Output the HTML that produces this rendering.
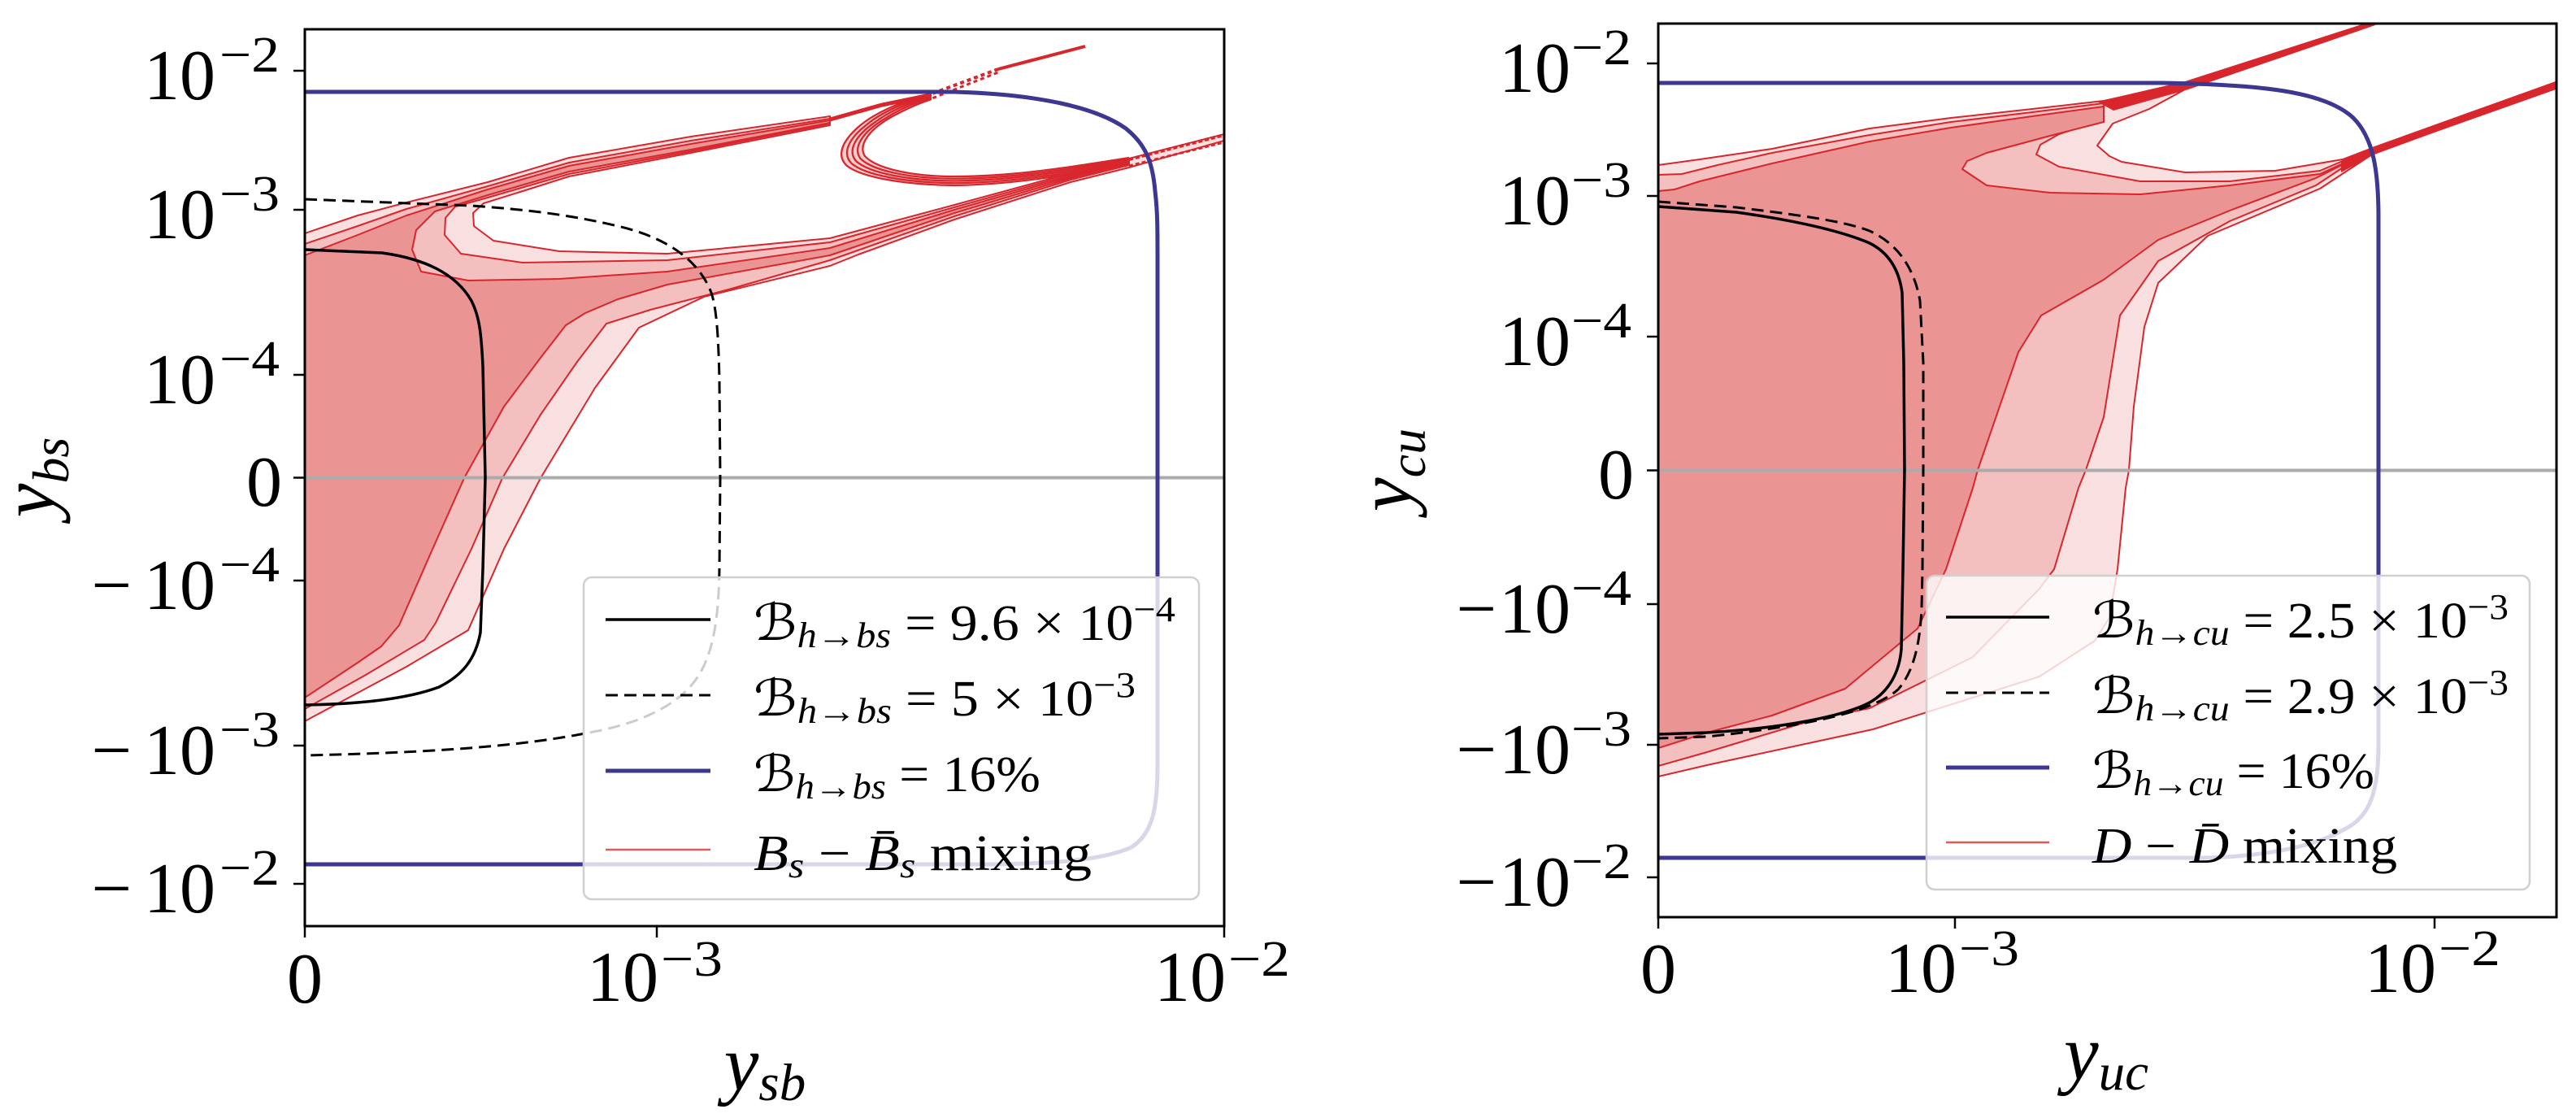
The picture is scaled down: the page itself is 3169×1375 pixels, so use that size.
<!DOCTYPE html>
<html><head><meta charset="utf-8"><style>
html,body{margin:0;padding:0;background:#fff;}
svg{display:block;}
text{font-family:"Liberation Serif","DejaVu Serif",serif;fill:#000;}
</style></head><body>
<svg xmlns="http://www.w3.org/2000/svg" width="3169" height="1375" viewBox="0 0 3169 1375">
<defs>
<clipPath id="cl"><rect x="375" y="36" width="1131" height="1103"/></clipPath>
<clipPath id="cr"><rect x="2040" y="29" width="1105" height="1099"/></clipPath>
</defs>
<rect width="3169" height="1375" fill="#fff"/>

<!-- ================= LEFT PLOT ================= -->
<g clip-path="url(#cl)">
<g stroke="#d8262c" stroke-width="2" stroke-linejoin="round">
<path fill="#f9e0e0" d="M375,287 L440,265 L500,249 L600,224 L700,194 L850,168 L1021,143 L1021,154 L850,188 L700,217 L640,236 L595,250 L582,262 L583,278 L607,296 L688,309 L821,312 L1021,293 L1174,252 L1317,213 L1389,195 L1506,165 L1506,173 L1389,206 L1317,224 L1174,270 L1056,313 L1021,327 L866,365 L786,403 L732,477 L700,530 L665,588 L620,675 L576,775 L500,820 L375,887 Z"/>
<path fill="#f3bfbf" d="M375,300 L440,278 L500,257 L600,229 L700,200 L850,173 L1021,146 L1021,152 L850,186 L700,214 L600,243 L560,254 L548,268 L547,289 L567,312 L643,323 L821,320 L1021,298 L1174,255 L1317,215 L1389,197 L1389,203 L1317,221 L1174,266 L1021,320 L900,355 L800,381 L746,398 L710,445 L665,510 L618,588 L580,675 L536,766 L522,787 L450,830 L375,872 Z"/>
<path fill="#ea9494" d="M375,314 L440,289 L500,265 L600,233 L700,204 L850,177 L1021,148 L1021,151 L850,184 L700,211 L600,240 L535,260 L512,283 L507,307 L518,334 L576,345 L688,343 L821,334 L1021,305 L1174,258 L1317,217 L1389,199 L1389,201 L1317,219 L1174,262 L1021,314 L821,350 L760,368 L720,385 L696,400 L665,440 L620,500 L571,588 L530,680 L491,769 L469,795 L440,815 L375,858 Z"/>
</g>
<!-- loop: pink band with multiple thin red contours -->
<path fill="#f6cdcd" d="M1146,115 C1110,124 1075,139 1055,157 C1035,175 1029,192 1042,204 C1060,218 1110,227 1174,228 C1250,227 1320,214 1389,201 L1389,194 C1320,205 1250,217 1174,217 C1120,217 1078,207 1064,192 C1055,178 1070,158 1100,142 C1115,134 1130,127 1146,122 Z"/>
<g fill="none" stroke="#d8262c" stroke-width="2.3">
<path d="M1146,115 C1110,124 1075,139 1055,157 C1035,175 1029,192 1042,204 C1060,218 1110,227 1174,228 C1250,227 1320,214 1389,201"/>
<path d="M1146,116.75 C1115,124.75 1085,137.75 1066.25,153.25 C1043.75,170.75 1035.5,188.5 1047.5,201 C1064.5,215.25 1112.5,224.5 1174,225.25 C1250,224.5 1320,211.75 1389,199.25"/>
<path d="M1146,118.5 C1120,125.5 1095,136.5 1077.5,149.5 C1052.5,166.5 1042,185 1053,198 C1069,212.5 1115,222 1174,222.5 C1250,222 1320,209.5 1389,197.5"/>
<path d="M1146,120.25 C1125,126.25 1105,135.25 1088.75,145.75 C1061.25,162.25 1048.5,181.5 1058.5,195 C1073.5,209.75 1117.5,219.5 1174,219.75 C1250,219.5 1320,207.25 1389,195.75"/>
<path d="M1146,122 C1130,127 1115,134 1100,142 C1070,158 1055,178 1064,192 C1078,207 1120,217 1174,217 C1250,217 1320,205 1389,194"/>
</g>
<path d="M1021,147 L1085,129 L1139,118" fill="none" stroke="#d8262c" stroke-width="5"/>
<path d="M1139,118 L1228,85" fill="none" stroke="#d8262c" stroke-width="4" stroke-dasharray="5 4"/>
<path d="M1139,124 L1228,89" fill="none" stroke="#d8262c" stroke-width="3" stroke-dasharray="5 4"/>
<path d="M1228,85 L1335,57" fill="none" stroke="#d8262c" stroke-width="4"/>
<path d="M1389,196 L1506,166" fill="none" stroke="#d8262c" stroke-width="4" stroke-dasharray="5 3"/>
<path d="M1389,204 L1506,175" fill="none" stroke="#d8262c" stroke-width="3" stroke-dasharray="5 3"/>
<!-- zero line -->
<line x1="375" y1="587.5" x2="1506" y2="587.5" stroke="#ababab" stroke-width="4"/>
<!-- blue -->
<path d="M375,113 L1174,113 C1280,116 1350,133 1385,158 C1410,178 1418,200 1421,235 C1424,260 1424,280 1424,320 L1424,940 C1424,995 1418,1025 1392,1042 C1352,1060 1280,1063 1200,1063 L375,1063" fill="none" stroke="#3c3791" stroke-width="5"/>
<!-- black solid -->
<path d="M375,307 L470,311 C520,318 560,335 580,370 C590,390 592,410 594,450 L597,587 L594,700 L591,778 C585,810 570,830 540,845 C500,860 440,866 375,867" fill="none" stroke="#000" stroke-width="3.5"/>
<!-- black dashed -->
<path d="M375,245 L580,253 C650,258 700,264 760,278 C820,292 860,320 875,360 C882,380 884,420 885,468 L886,588 L885,700 C884,760 878,800 860,830 C840,862 800,885 740,898 C660,915 560,925 375,929" fill="none" stroke="#000" stroke-width="3" stroke-dasharray="15 8"/>
</g>
<!-- frame -->
<rect x="375" y="36" width="1131" height="1103" fill="none" stroke="#000" stroke-width="3"/>
<!-- ticks -->
<g stroke="#000" stroke-width="2.5">
<line x1="361" y1="87" x2="375" y2="87"/><line x1="361" y1="258" x2="375" y2="258"/>
<line x1="361" y1="461" x2="375" y2="461"/><line x1="361" y1="587.5" x2="375" y2="587.5"/>
<line x1="361" y1="714" x2="375" y2="714"/><line x1="361" y1="917" x2="375" y2="917"/>
<line x1="361" y1="1087" x2="375" y2="1087"/>
<line x1="375" y1="1139" x2="375" y2="1153"/><line x1="808" y1="1139" x2="808" y2="1153"/>
<line x1="1506" y1="1139" x2="1506" y2="1153"/>
</g>
<!-- y tick labels left -->
<g font-size="88">
<text x="265" y="122" text-anchor="end">10</text><text x="344" y="88" text-anchor="end" font-size="62" textLength="74" lengthAdjust="spacingAndGlyphs">−2</text>
<text x="265" y="293" text-anchor="end">10</text><text x="344" y="259" text-anchor="end" font-size="62" textLength="74" lengthAdjust="spacingAndGlyphs">−3</text>
<text x="265" y="496" text-anchor="end">10</text><text x="344" y="462" text-anchor="end" font-size="62" textLength="74" lengthAdjust="spacingAndGlyphs">−4</text>
<text x="347" y="622" text-anchor="end">0</text>
<text x="162" y="749" text-anchor="end">−</text><text x="265" y="749" text-anchor="end">10</text><text x="344" y="715" text-anchor="end" font-size="62" textLength="74" lengthAdjust="spacingAndGlyphs">−4</text>
<text x="162" y="952" text-anchor="end">−</text><text x="265" y="952" text-anchor="end">10</text><text x="344" y="918" text-anchor="end" font-size="62" textLength="74" lengthAdjust="spacingAndGlyphs">−3</text>
<text x="162" y="1122" text-anchor="end">−</text><text x="265" y="1122" text-anchor="end">10</text><text x="344" y="1088" text-anchor="end" font-size="62" textLength="74" lengthAdjust="spacingAndGlyphs">−2</text>
<!-- x tick labels left -->
<text x="375" y="1233" text-anchor="middle">0</text>
<text x="810" y="1231" text-anchor="end">10</text><text x="813" y="1200" font-size="62" textLength="76" lengthAdjust="spacingAndGlyphs">−3</text>
<text x="1508" y="1231" text-anchor="end">10</text><text x="1511" y="1200" font-size="62" textLength="76" lengthAdjust="spacingAndGlyphs">−2</text>
</g>
<!-- axis labels left -->
<text transform="translate(66,587) rotate(-90)" text-anchor="middle" font-size="94" font-style="italic">y<tspan font-size="64" dy="18">bs</tspan></text>
<text x="941" y="1340" text-anchor="middle" font-size="96" font-style="italic">y<tspan font-size="65" dy="13">sb</tspan></text>

<!-- legend left -->
<rect x="718" y="710" width="757" height="396" rx="10" fill="#fff" fill-opacity="0.8" stroke="#d0d0d0" stroke-width="2.5"/>
<line x1="745" y1="762" x2="874" y2="762" stroke="#000" stroke-width="3.5"/>
<line x1="745" y1="855" x2="874" y2="855" stroke="#000" stroke-width="3" stroke-dasharray="15 8"/>
<line x1="745" y1="948" x2="874" y2="948" stroke="#3c3791" stroke-width="5"/>
<line x1="745" y1="1045" x2="874" y2="1045" stroke="#e05a5a" stroke-width="2.5"/>
<g font-size="62">
<text x="927" y="787" textLength="519" lengthAdjust="spacingAndGlyphs">ℬ<tspan font-size="44" font-style="italic" dy="9">h</tspan><tspan font-size="44">→</tspan><tspan font-size="44" font-style="italic">bs</tspan><tspan dy="-9"> = 9.6 × 10</tspan><tspan font-size="44" dy="-23">−4</tspan></text>
<text x="927" y="880" textLength="470" lengthAdjust="spacingAndGlyphs">ℬ<tspan font-size="44" font-style="italic" dy="9">h</tspan><tspan font-size="44">→</tspan><tspan font-size="44" font-style="italic">bs</tspan><tspan dy="-9"> = 5 × 10</tspan><tspan font-size="44" dy="-23">−3</tspan></text>
<text x="927" y="973" textLength="353" lengthAdjust="spacingAndGlyphs">ℬ<tspan font-size="44" font-style="italic" dy="9">h</tspan><tspan font-size="44">→</tspan><tspan font-size="44" font-style="italic">bs</tspan><tspan dy="-9"> = 16%</tspan></text>
<text x="927" y="1070" textLength="416" lengthAdjust="spacingAndGlyphs"><tspan font-style="italic">B</tspan><tspan font-size="44" font-style="italic" dy="9">s</tspan><tspan dy="-9"> − </tspan><tspan font-style="italic">B̄</tspan><tspan font-size="44" font-style="italic" dy="9">s</tspan><tspan dy="-9"> mixing</tspan></text>
</g>

<!-- ================= RIGHT PLOT ================= -->
<g clip-path="url(#cr)">
<g stroke="#d8262c" stroke-width="2" stroke-linejoin="round">
<path fill="#f9e0e0" d="M2040,203 L2091,196 L2180,183 L2300,158 L2400,145 L2500,134 L2588,124 L2640,113 L2688,104 L2688,110 L2644,134 L2599,152 L2580,179 L2595,192 L2610,199 L2688,212 L2799,210 L2882,196 L2921,181 L3147,100 L3147,108 L2921,188 L2854,232 L2716,290 L2655,348 L2638,402 L2625,500 L2619,578 L2615,600 L2605,700 L2595,760 L2577,788 L2509,832 L2304,897 L2100,941 L2040,955 Z"/>
<path fill="#f3bfbf" d="M2040,215 L2069,214 L2113,203 L2180,188 L2300,166 L2400,150 L2500,138 L2588,127 L2588,147 L2533,165 L2510,178 L2505,190 L2533,205 L2633,223 L2743,223 L2854,210 L2917,183 L2849,228 L2743,272 L2655,321 L2608,388 L2588,513 L2566,578 L2557,600 L2527,700 L2509,724 L2427,808 L2300,871 L2236,884 L2100,925 L2040,942 Z"/>
<path fill="#ea9494" d="M2040,235 L2060,233 L2091,223 L2180,201 L2300,174 L2400,157 L2500,143 L2588,131 L2588,150 L2522,167 L2444,188 L2420,198 L2414,208 L2444,228 L2522,237 L2633,239 L2743,228 L2854,214 L2915,186 L2849,219 L2743,259 L2655,295 L2588,344 L2511,388 L2483,433 L2433,578 L2427,600 L2394,700 L2359,773 L2300,822 L2270,847 L2180,880 L2100,901 L2040,920 Z"/>
</g>
<path fill="#d8262c" d="M2580,125 L2688,100 L2918,26 L2922,31 L2692,110 L2600,136 Z"/>
<path fill="#d8262c" d="M2880,199 L2921,182 L3147,99 L3147,107 L2921,190 L2880,212 Z"/>
<line x1="2040" y1="578.5" x2="3145" y2="578.5" stroke="#ababab" stroke-width="4"/>
<path d="M2040,102 L2660,102 C2780,104 2860,112 2895,145 C2920,170 2926,210 2926,268 L2926,916 C2926,975 2915,1005 2884,1020 C2850,1040 2790,1053 2713,1055 L2040,1055" fill="none" stroke="#3c3791" stroke-width="5"/>
<path d="M2040,254 L2136,261 C2200,270 2260,282 2300,299 C2322,310 2336,330 2340,360 L2342,446 L2343,578 L2341,700 L2339,798 C2337,825 2325,850 2300,864 C2270,880 2200,895 2100,901 L2040,903" fill="none" stroke="#000" stroke-width="3.5"/>
<path d="M2040,248 L2136,255 C2210,264 2270,272 2300,284 C2335,300 2355,330 2362,370 L2366,446 L2366,578 L2365,700 L2364,748 C2362,790 2355,825 2335,848 C2310,870 2250,890 2100,906 L2040,908" fill="none" stroke="#000" stroke-width="3" stroke-dasharray="15 8"/>
</g>
<rect x="2040" y="29" width="1105" height="1099" fill="none" stroke="#000" stroke-width="3"/>
<g stroke="#000" stroke-width="2.5">
<line x1="2026" y1="78" x2="2040" y2="78"/><line x1="2026" y1="241" x2="2040" y2="241"/>
<line x1="2026" y1="414" x2="2040" y2="414"/><line x1="2026" y1="578.5" x2="2040" y2="578.5"/>
<line x1="2026" y1="743" x2="2040" y2="743"/><line x1="2026" y1="916" x2="2040" y2="916"/>
<line x1="2026" y1="1079" x2="2040" y2="1079"/>
<line x1="2040" y1="1128" x2="2040" y2="1142"/><line x1="2405" y1="1128" x2="2405" y2="1142"/>
<line x1="2995" y1="1128" x2="2995" y2="1142"/>
</g>
<g font-size="88">
<text x="1932" y="113" text-anchor="end">10</text><text x="2007" y="79" text-anchor="end" font-size="62" textLength="74" lengthAdjust="spacingAndGlyphs">−2</text>
<text x="1932" y="276" text-anchor="end">10</text><text x="2007" y="242" text-anchor="end" font-size="62" textLength="74" lengthAdjust="spacingAndGlyphs">−3</text>
<text x="1932" y="449" text-anchor="end">10</text><text x="2007" y="415" text-anchor="end" font-size="62" textLength="74" lengthAdjust="spacingAndGlyphs">−4</text>
<text x="2010" y="613" text-anchor="end">0</text>
<text x="1841" y="778" text-anchor="end">−</text><text x="1932" y="778" text-anchor="end">10</text><text x="2007" y="744" text-anchor="end" font-size="62" textLength="74" lengthAdjust="spacingAndGlyphs">−4</text>
<text x="1841" y="951" text-anchor="end">−</text><text x="1932" y="951" text-anchor="end">10</text><text x="2007" y="917" text-anchor="end" font-size="62" textLength="74" lengthAdjust="spacingAndGlyphs">−3</text>
<text x="1841" y="1114" text-anchor="end">−</text><text x="1932" y="1114" text-anchor="end">10</text><text x="2007" y="1080" text-anchor="end" font-size="62" textLength="74" lengthAdjust="spacingAndGlyphs">−2</text>
<text x="2040" y="1221" text-anchor="middle">0</text>
<text x="2407" y="1220" text-anchor="end">10</text><text x="2410" y="1187" font-size="62" textLength="74" lengthAdjust="spacingAndGlyphs">−3</text>
<text x="2997" y="1220" text-anchor="end">10</text><text x="3000" y="1187" font-size="62" textLength="76" lengthAdjust="spacingAndGlyphs">−2</text>
</g>
<text transform="translate(1735,578) rotate(-90)" text-anchor="middle" font-size="94" font-style="italic">y<tspan font-size="64" dy="18">cu</tspan></text>
<text x="2591" y="1327" text-anchor="middle" font-size="96" font-style="italic">y<tspan font-size="65" dy="13">uc</tspan></text>

<rect x="2370" y="708" width="742" height="386" rx="10" fill="#fff" fill-opacity="0.8" stroke="#d0d0d0" stroke-width="2.5"/>
<line x1="2394" y1="759" x2="2521" y2="759" stroke="#000" stroke-width="3.5"/>
<line x1="2394" y1="852" x2="2521" y2="852" stroke="#000" stroke-width="3" stroke-dasharray="15 8"/>
<line x1="2394" y1="944" x2="2521" y2="944" stroke="#3c3791" stroke-width="5"/>
<line x1="2394" y1="1036" x2="2521" y2="1036" stroke="#e05a5a" stroke-width="2.5"/>
<g font-size="62">
<text x="2574" y="784" textLength="512" lengthAdjust="spacingAndGlyphs">ℬ<tspan font-size="44" font-style="italic" dy="9">h</tspan><tspan font-size="44">→</tspan><tspan font-size="44" font-style="italic">cu</tspan><tspan dy="-9"> = 2.5 × 10</tspan><tspan font-size="44" dy="-23">−3</tspan></text>
<text x="2574" y="877" textLength="512" lengthAdjust="spacingAndGlyphs">ℬ<tspan font-size="44" font-style="italic" dy="9">h</tspan><tspan font-size="44">→</tspan><tspan font-size="44" font-style="italic">cu</tspan><tspan dy="-9"> = 2.9 × 10</tspan><tspan font-size="44" dy="-23">−3</tspan></text>
<text x="2574" y="969" textLength="347" lengthAdjust="spacingAndGlyphs">ℬ<tspan font-size="44" font-style="italic" dy="9">h</tspan><tspan font-size="44">→</tspan><tspan font-size="44" font-style="italic">cu</tspan><tspan dy="-9"> = 16%</tspan></text>
<text x="2574" y="1061" textLength="375" lengthAdjust="spacingAndGlyphs"><tspan font-style="italic">D</tspan> − <tspan font-style="italic">D̄</tspan> mixing</text>
</g>
</svg>
</body></html>
